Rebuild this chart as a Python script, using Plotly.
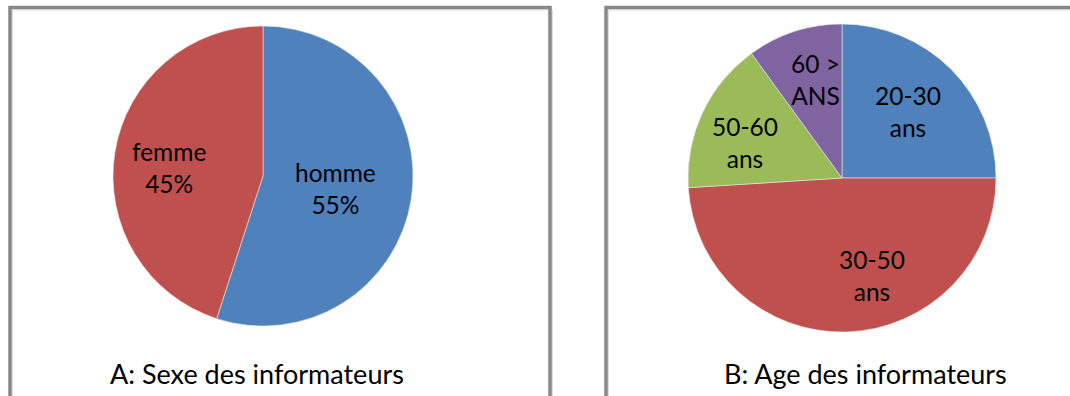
import math
import plotly.graph_objects as go

# ---- data ----
sexe_labels = ["homme", "femme"]
sexe_values = [55, 45]
age_labels = ["20-30 ans", "30-50 ans", "50-60 ans", "60 > ANS"]
age_values = [25, 49, 16, 10]
title_a = "A: Sexe des informateurs"
title_b = "B: Age des informateurs"

# ---- styling / layout ----
W, H = 1070, 396
FONT = "Lato"
colors_a = ["#4F81BD", "#C0504D"]
colors_b = ["#4F81BD", "#C0504D", "#9BBB59", "#8064A2"]
label_font = 24.5
title_font = 27

# pie geometry in pixels (center x, center y, radius)
pie_a = (263, 176, 150)
pie_b = (842, 178, 154)
# label placement: (angle in degrees clockwise from top, radius fraction)
lab_pos_a = [(99.5, 0.49), (275, 0.63)]
lab_pos_b = [(44.6, 0.61), (163, 0.665), (290, 0.67), (345, 0.665)]


def px(x):
    return x / W


def py(y):
    return 1 - y / H


def domain(p):
    cx, cy, r = p
    return dict(x=[px(cx - r), px(cx + r)], y=[py(cy + r), py(cy - r)])


fig = go.Figure()
fig.add_trace(go.Pie(labels=sexe_labels, values=sexe_values, sort=False,
                     direction="clockwise", rotation=0, textinfo="none",
                     marker=dict(colors=colors_a, line=dict(color="#e8e8e8", width=0.6)),
                     domain=domain(pie_a), hoverinfo="label+percent"))
fig.add_trace(go.Pie(labels=age_labels, values=age_values, sort=False,
                     direction="clockwise", rotation=0, textinfo="none",
                     marker=dict(colors=colors_b, line=dict(color="#e8e8e8", width=0.6)),
                     domain=domain(pie_b), hoverinfo="label+percent"))

annotations = []


def add_labels(p, texts, positions):
    cx, cy, r = p
    for t, (ang, fr) in zip(texts, positions):
        a = math.radians(ang)
        x = cx + r * fr * math.sin(a)
        y = cy - r * fr * math.cos(a)
        annotations.append(dict(x=px(x), y=py(y), xref="paper", yref="paper",
                                text=t, showarrow=False, xanchor="center", yanchor="middle",
                                font=dict(family=FONT, size=label_font, color="black")))


tot_a = sum(sexe_values)
add_labels(pie_a, [f"{l}<br>{round(v * 100 / tot_a)}%" for l, v in zip(sexe_labels, sexe_values)], lab_pos_a)
add_labels(pie_b, ["<br>".join(l.rsplit(" ", 1)) for l in age_labels], lab_pos_b)

annotations.append(dict(x=px(257), y=py(373), xref="paper", yref="paper", text=title_a,
                        showarrow=False, xanchor="center", yanchor="middle",
                        font=dict(family=FONT, size=title_font, color="black")))
annotations.append(dict(x=px(865), y=py(373), xref="paper", yref="paper", text=title_b,
                        showarrow=False, xanchor="center", yanchor="middle",
                        font=dict(family=FONT, size=title_font, color="black")))

shapes = []
for (x0, x1) in [(10, 550), (606, 1090)]:
    shapes.append(dict(type="rect", xref="paper", yref="paper",
                       x0=px(x0), x1=px(x1), y0=py(420), y1=py(7.5),
                       line=dict(color="#878787", width=3.5), fillcolor="rgba(0,0,0,0)"))
    shapes.append(dict(type="rect", xref="paper", yref="paper",
                       x0=px(x0 + 2.5), x1=px(x1 + 2.5), y0=py(420), y1=py(10),
                       line=dict(color="#dcdcdc", width=1), fillcolor="rgba(0,0,0,0)", layer="below"))

fig.update_layout(width=W, height=H, margin=dict(l=0, r=0, t=0, b=0),
                  paper_bgcolor="white", plot_bgcolor="white", showlegend=False,
                  annotations=annotations, shapes=shapes,
                  font=dict(family=FONT, color="black"))

fig.write_html("out.html")
